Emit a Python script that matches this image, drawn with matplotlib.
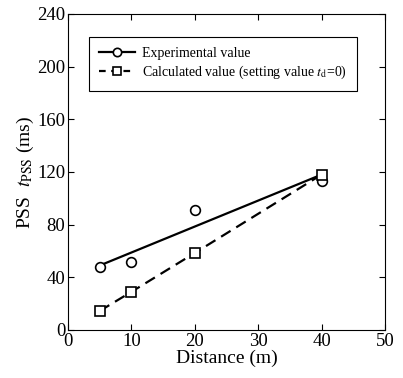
import numpy as np
import matplotlib.pyplot as plt

plt.rcParams['font.family'] = 'Liberation Serif'
plt.rcParams['mathtext.fontset'] = 'stix'

# data
distance = [5, 10, 20, 40]
exp_value = [48, 52, 91, 113]
calc_value = [14.5, 29, 58.5, 118]
fit_x = [5, 40]
fit_y = [49, 118]

fig = plt.figure(figsize=(4.03, 3.78), dpi=100)
ax = fig.add_axes([0.169, 0.127, 0.786, 0.836])

# experimental: fitted line + circles
ax.plot(fit_x, fit_y, color='black', lw=1.6)
ax.plot(distance, exp_value, 'o', color='black', mfc='white', ms=7, mew=1.2)
ax.plot([], [], '-o', color='black', mfc='white', ms=6, mew=1.2, lw=1.6,
        label='Experimental value')

# calculated: dashed line with squares
ax.plot(distance, calc_value, '--s', color='black', mfc='white', ms=7, mew=1.2,
        lw=1.6, dashes=(5, 3))
ax.plot([], [], '--s', color='black', mfc='white', ms=6, mew=1.2,
        lw=1.6, dashes=(3, 2.5),
        label='Calculated value (setting value $t_{\\mathrm{d}}$=0)')

ax.set_xlim(0, 50)
ax.set_ylim(0, 240)
ax.set_xticks([0, 10, 20, 30, 40, 50])
ax.set_yticks([0, 40, 80, 120, 160, 200, 240])
ax.tick_params(direction='in', top=True, right=True, labelsize=13.5, length=4, pad=2)
ax.set_xlabel('Distance (m)', fontsize=14, labelpad=0)
ax.set_ylabel('PSS  $t_{\\mathrm{PSS}}$ (ms)', fontsize=14, labelpad=1)

leg = ax.legend(loc='upper left', bbox_to_anchor=(0.066, 0.927), fontsize=10,
                fancybox=False, edgecolor='black', framealpha=1,
                handlelength=2.6, handletextpad=0.5, borderpad=0.7,
                labelspacing=0.3, borderaxespad=0)
leg.get_frame().set_linewidth(0.8)

plt.savefig('out.png', dpi=100)
